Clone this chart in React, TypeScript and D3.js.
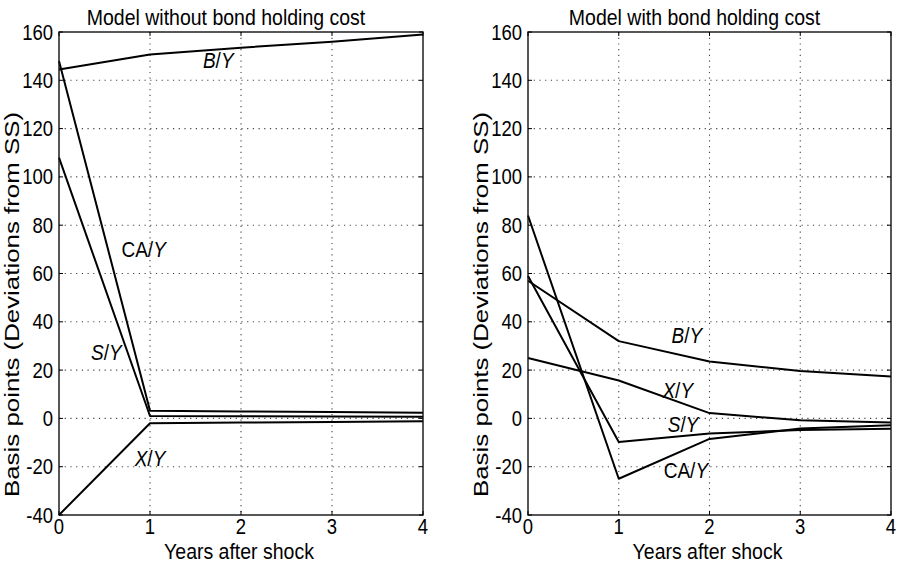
import React from "react";
import * as d3 from "d3";

const years = [0, 1, 2, 3, 4];
const yTicks = [-40, -20, 0, 20, 40, 60, 80, 100, 120, 140, 160];

// Left panel: model without bond holding cost
const leftBY = [144.5, 150.7, 153.5, 156, 159];
const leftCAY = [148, 3.2, 2.9, 2.6, 2.3];
const leftSY = [108, 1.0, 0.9, 0.8, 0.7];
const leftXY = [-40, -2.0, -1.7, -1.5, -1.2];

// Right panel: model with bond holding cost
const rightBY = [57, 32, 23.6, 19.6, 17.4];
const rightXY = [25, 15.7, 2.2, -0.8, -1.7];
const rightSY = [59, -9.8, -6.3, -4.8, -4.3];
const rightCAY = [84, -25, -8.5, -4.2, -2.8];

const titles = ["Model without bond holding cost", "Model with bond holding cost"];
const xLabel = "Years after shock";
const yLabel = "Basis points  (Deviations from SS)";

// label anchors in data units [x, y]
const leftLabels = [
  { name: "B", x: 1.75, y: 145 },
  { name: "CA", x: 0.93, y: 66.7 },
  { name: "S", x: 0.52, y: 24 },
  { name: "X", x: 1.0, y: -19.9 },
];
const rightLabels = [
  { name: "B", x: 1.75, y: 31.3 },
  { name: "X", x: 1.65, y: 8.3 },
  { name: "S", x: 1.71, y: -5.7 },
  { name: "CA", x: 1.74, y: -24.8 },
];

const FONT = "'Liberation Sans', Arial, Helvetica, sans-serif";
const VS = 1.15; // vertical stretch of the scanned text

type PanelProps = {
  x0: number;
  x1: number;
  title: string;
  series: number[][];
  labels: { name: string; x: number; y: number }[];
};

function T({ x, y, size, anchor, children }: { x: number; y: number; size: number; anchor: string; children: React.ReactNode }) {
  return (
    <text transform={`translate(${x},${y}) scale(1,${VS})`} textAnchor={anchor} fontSize={size}>
      {children}
    </text>
  );
}

function Panel({ x0, x1, title, series, labels }: PanelProps) {
  const top = 32;
  const bottom = 515;
  const x = d3.scaleLinear().domain([0, 4]).range([x0, x1]);
  const y = d3.scaleLinear().domain([-40, 160]).range([bottom, top]);
  const line = d3
    .line<number>()
    .x((_, i) => x(years[i]))
    .y((d) => y(d));
  const cx = (x0 + x1) / 2;
  return (
    <g fontFamily={FONT} fill="#000">
      {/* grid */}
      {years.slice(1, -1).map((t) => (
        <line key={"gx" + t} x1={x(t)} x2={x(t)} y1={top} y2={bottom} stroke="#444" strokeWidth={1.1} strokeDasharray="1.2,4.5" />
      ))}
      {yTicks.slice(1, -1).map((t) => (
        <line key={"gy" + t} x1={x0} x2={x1} y1={y(t)} y2={y(t)} stroke="#444" strokeWidth={1.1} strokeDasharray="1.2,4.5" />
      ))}
      {/* series */}
      {series.map((s, i) => (
        <path key={"s" + i} d={line(s) || ""} fill="none" stroke="#000" strokeWidth={2} strokeLinejoin="round" />
      ))}
      {/* box */}
      <rect x={x0} y={top} width={x1 - x0} height={bottom - top} fill="none" stroke="#111" strokeWidth={1.4} />
      {/* ticks */}
      {years.map((t) => (
        <g key={"tx" + t}>
          <line x1={x(t)} x2={x(t)} y1={bottom} y2={bottom - 4} stroke="#000" />
          <line x1={x(t)} x2={x(t)} y1={top} y2={top + 4} stroke="#000" />
          <T x={x(t)} y={bottom + 19} anchor="middle" size={18.5}>
            {t}
          </T>
        </g>
      ))}
      {yTicks.map((t) => (
        <g key={"ty" + t}>
          <line x1={x0} x2={x0 + 4} y1={y(t)} y2={y(t)} stroke="#000" />
          <line x1={x1} x2={x1 - 4} y1={y(t)} y2={y(t)} stroke="#000" />
          <T x={x0 - 6} y={y(t) + 7.5} anchor="end" size={18.5}>
            {t}
          </T>
        </g>
      ))}
      {/* titles */}
      <T x={cx - 15} y={25} anchor="middle" size={19.5}>
        {title}
      </T>
      <T x={cx - 2} y={559} anchor="middle" size={19.5}>
        {xLabel}
      </T>
      <text
        transform={`translate(${x0 - 40},497) rotate(-90)`}
        textAnchor="start"
        fontSize={21}
        textLength={385}
        lengthAdjust="spacingAndGlyphs"
      >
        {yLabel}
      </text>
      {/* series labels */}
      {labels.map((l) => (
        <T key={l.name} x={x(l.x)} y={y(l.y)} anchor="middle" size={19}>
          {l.name === "CA" ? <tspan>CA</tspan> : <tspan fontStyle="italic">{l.name}</tspan>}
          <tspan>/</tspan>
          <tspan fontStyle="italic">Y</tspan>
        </T>
      ))}
    </g>
  );
}

export default function App() {
  return (
    <svg width={902} height={566} style={{ position: "absolute", left: 0, top: 0, background: "#fff" }}>
      <rect width={902} height={566} fill="#fff" />
      <Panel x0={59} x1={423} title={titles[0]} series={[leftBY, leftCAY, leftSY, leftXY]} labels={leftLabels} />
      <Panel x0={528} x1={891} title={titles[1]} series={[rightBY, rightXY, rightSY, rightCAY]} labels={rightLabels} />
    </svg>
  );
}
